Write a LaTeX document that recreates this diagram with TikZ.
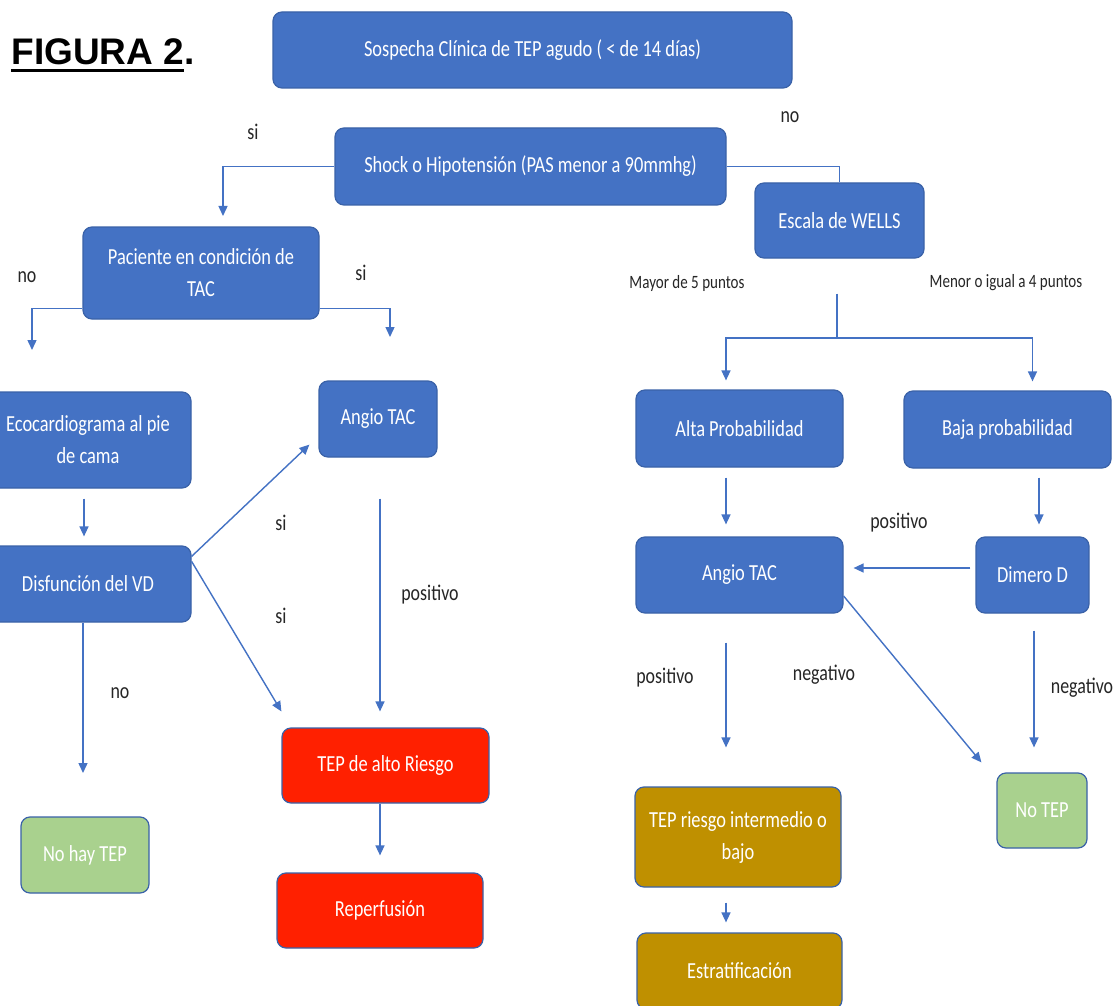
\documentclass[tikz,border=0pt]{standalone}
\usepackage{fontspec}
\setmainfont{Carlito}[FakeStretch=0.8]
\newfontfamily\titulofont{Liberation Sans}
\usetikzlibrary{arrows.meta}
\definecolor{azul}{HTML}{4472C4}
\definecolor{borde}{HTML}{3A62A8}
\definecolor{rojo}{HTML}{FF2000}
\definecolor{verde}{HTML}{A9D18E}
\definecolor{ocre}{HTML}{BF9000}
\definecolor{gristexto}{HTML}{262626}
\newsavebox{\cajasub}
\newcommand{\subrayado}[1]{\sbox{\cajasub}{#1}\rlap{\rule[-3.5pt]{\wd\cajasub}{1.5pt}}\usebox{\cajasub}}
\begin{document}
\begin{tikzpicture}[x=0.5pt,y=-0.5pt,
  caja/.style={draw=borde,line width=0.6pt,fill=azul,text=white,rounded corners=4.5pt,
    inner sep=0pt,align=center,font=\fontsize{11.5}{16}\selectfont},
  cajaroja/.style={caja,fill=rojo},
  cajaverde/.style={caja,fill=verde},
  cajaocre/.style={caja,fill=ocre},
  etiqueta/.style={text=gristexto,inner sep=0pt,font=\fontsize{11.2}{13}\selectfont},
  chica/.style={etiqueta,font=\fontsize{9.4}{11}\selectfont},
  linea/.style={draw=azul,line width=0.7pt},
  flecha/.style={linea,-{Triangle[length=5pt,width=4.5pt]}}]
 \fill[white] (0,0) rectangle (1120,1006);
 \useasboundingbox (0,0) rectangle (1120,1006);
 % titulo
 \node[anchor=base west,inner sep=0pt,font=\titulofont\bfseries\fontsize{18.5}{22}\selectfont]
   (titulo) at (11,65) {\subrayado{FIGURA 2}.};
 % cajas
 \node[caja,minimum width=259.5pt,minimum height=38pt] (sospecha) at (532.5,50) {Sospecha Clínica de TEP agudo ( < de 14 días)};
 \node[caja,minimum width=195.5pt,minimum height=38.5pt] (shock) at (530.5,166.5) {Shock o Hipotensión (PAS menor a 90mmhg)};
 \node[caja,minimum width=84.5pt,minimum height=37.5pt] (wells) at (839.5,220.5) {Escala de WELLS};
 \node[caja,minimum width=118pt,minimum height=46pt] (paciente) at (201,273) {Paciente en condición de\\TAC};
 \node[caja,minimum width=103pt,minimum height=48pt] (eco) at (88,440) {Ecocardiograma al pie\\de cama};
 \node[caja,minimum width=59pt,minimum height=38pt] (angioizq) at (378,419) {Angio TAC};
 \node[caja,minimum width=103pt,minimum height=38pt] (disfuncion) at (88,584) {Disfunción del VD};
 \node[cajaverde,minimum width=64pt,minimum height=38pt] (nohay) at (85,855) {No hay TEP};
 \node[cajaroja,minimum width=103.5pt,minimum height=37.5pt] (altoriesgo) at (385.5,765.5) {TEP de alto Riesgo};
 \node[cajaroja,minimum width=103pt,minimum height=37.5pt] (reperfusion) at (380,910.5) {Reperfusión};
 \node[caja,minimum width=103.5pt,minimum height=38.5pt] (alta) at (739.5,428.5) {Alta Probabilidad};
 \node[caja,minimum width=103.5pt,minimum height=38.5pt] (baja) at (1007.5,429.5) {Baja probabilidad};
 \node[caja,minimum width=103.5pt,minimum height=38pt] (angioder) at (739.5,575) {Angio TAC};
 \node[caja,minimum width=56.5pt,minimum height=38pt] (dimero) at (1032.5,575) {Dimero D};
 \node[cajaverde,minimum width=45pt,minimum height=37.5pt] (notep) at (1042,810.5) {No TEP};
 \node[cajaocre,minimum width=103pt,minimum height=50pt] (intermedio) at (738,837) {TEP riesgo intermedio o\\bajo};
 \node[cajaocre,minimum width=102.5pt,minimum height=38pt] (estrat) at (739.5,971) {Estratificación};
 % puntas libres
 \coordinate (pshock) at (223,216);
 \coordinate (pno) at (32,350);
 \coordinate (psi) at (390,337);
 \coordinate (pnohay) at (83,773);
 \coordinate (rama) at (837,338);
 % conectores
 \draw[flecha] (shock.west) -| (pshock);
 \draw[linea] (shock.east) -| (wells.north);
 \draw[flecha] ([yshift=5.5pt]paciente.south west) -| (pno);
 \draw[flecha] ([yshift=5.5pt]paciente.south east) -| (psi);
 \draw[flecha,shorten <=5pt,shorten >=4.5pt] ([xshift=-2pt]eco.south) -- ([xshift=-2pt]disfuncion.north);
 \draw[flecha] ([yshift=-5.5pt]disfuncion.north east) -- ([xshift=-4.5pt,yshift=6.5pt]angioizq.south west);
 \draw[flecha] ([yshift=-8pt]disfuncion.north east) -- ([yshift=8pt]altoriesgo.north west);
 \draw[flecha] (disfuncion.south -| pnohay) -- (pnohay);
 \draw[flecha,shorten <=20.5pt,shorten >=8pt] ([xshift=1pt]angioizq.south) -- ([xshift=1pt]angioizq.south |- altoriesgo.north);
 \draw[flecha,shorten >=8.5pt] (altoriesgo.south -| reperfusion.north) -- (reperfusion.north);
 \draw[linea,shorten <=17.5pt] (wells.south -| rama) -- (rama);
 \draw[flecha,shorten >=4.5pt] (rama) -| ([xshift=-6.75pt]alta.north);
 \draw[flecha,shorten >=4.5pt] (rama) -| ([xshift=12.5pt]baja.north);
 \draw[flecha,shorten <=5pt,shorten >=6pt] ([xshift=-6.75pt]alta.south) -- ([xshift=-6.75pt]angioder.north);
 \draw[flecha,shorten <=4.5pt,shorten >=6pt] ([xshift=15.75pt]baja.south) -- ([xshift=3.25pt]dimero.north);
 \draw[flecha,shorten <=2.5pt,shorten >=5pt] ([yshift=3.5pt]dimero.west) -- ([yshift=3.5pt]angioder.east);
 \draw[flecha] ([yshift=-10.5pt]angioder.east) -- ([xshift=-7.5pt,yshift=5pt]notep.north west);
 \draw[flecha,shorten <=14.5pt,shorten >=19.5pt] ([xshift=-6.75pt]angioder.south) -- ([xshift=-6.75pt]angioder.south |- intermedio.north);
 \draw[flecha,shorten <=8.5pt,shorten >=12.5pt] ([xshift=0.75pt]dimero.south) -- ([xshift=0.75pt]dimero.south |- notep.north);
 \draw[flecha,shorten <=7.5pt,shorten >=5pt] ([xshift=-6pt]intermedio.south) -- ([xshift=-6pt]intermedio.south |- estrat.north);
 % etiquetas
 \node[etiqueta] (si1) at (253,132) {si};
 \node[etiqueta] (no1) at (790,117) {no};
 \node[etiqueta] (no2) at (27,277) {no};
 \node[etiqueta] (si2) at (361,273) {si};
 \node[etiqueta] (si3) at (281,523) {si};
 \node[etiqueta] (si4) at (281,616) {si};
 \node[etiqueta] (pos1) at (430,595) {positivo};
 \node[etiqueta] (no3) at (120,693) {no};
 \node[chica] (mayor) at (687,283) {Mayor de 5 puntos};
 \node[chica] (menor) at (1006,283) {Menor o igual a 4 puntos};
 \node[etiqueta] (pos2) at (899,523) {positivo};
 \node[etiqueta] (pos3) at (665,678) {positivo};
 \node[etiqueta] (neg1) at (824,675) {negativo};
 \node[etiqueta] (neg2) at (1082,688) {negativo};
\end{tikzpicture}
\end{document}
